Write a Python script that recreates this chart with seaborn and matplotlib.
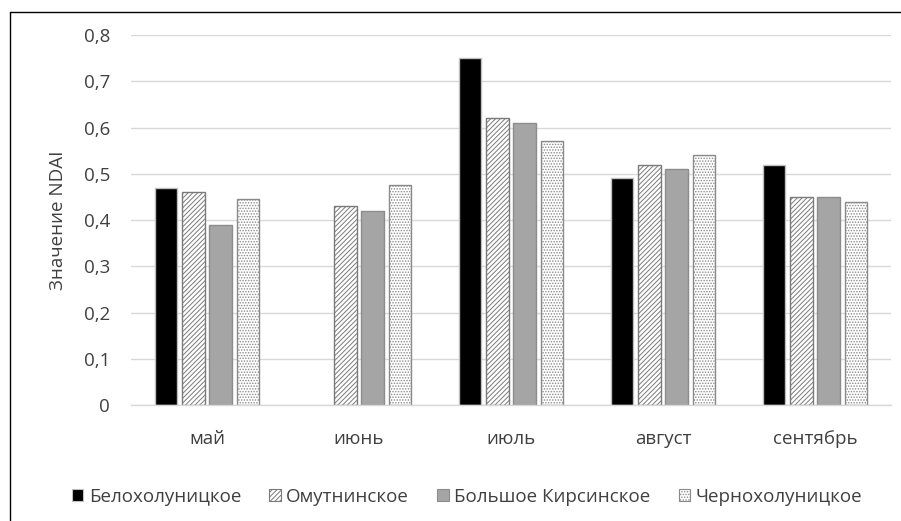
import matplotlib
matplotlib.use("Agg")
import matplotlib.pyplot as plt
from matplotlib.patches import Patch
from matplotlib.lines import Line2D
import seaborn as sns
import numpy as np
import pandas as pd

months = ["май", "июнь", "июль", "август", "сентябрь"]
series = ["Белохолуницкое", "Омутнинское", "Большое Кирсинское", "Чернохолуницкое"]
belo = [0.47, np.nan, 0.75, 0.49, 0.52]
omut = [0.46, 0.43, 0.62, 0.52, 0.45]
kirs = [0.39, 0.42, 0.61, 0.51, 0.45]
cherno = [0.445, 0.475, 0.57, 0.54, 0.44]
yticks = [0, 0.1, 0.2, 0.3, 0.4, 0.5, 0.6, 0.7, 0.8]
ylabels = ["0", "0,1", "0,2", "0,3", "0,4", "0,5", "0,6", "0,7", "0,8"]

rows = []
for s, vals in zip(series, [belo, omut, kirs, cherno]):
    for m, v in zip(months, vals):
        rows.append({"month": m, "series": s, "value": v})
df = pd.DataFrame(rows)

sns.set_theme(style="white")
plt.rcParams["font.family"] = ["Open Sans", "DejaVu Sans"]
plt.rcParams["hatch.linewidth"] = 0.7

FS = 13.5
TXT = "#404040"

fig = plt.figure(figsize=(9.01, 5.21), dpi=100)
ax = fig.add_axes([131 / 901, 1 - 405 / 521, 760 / 901, 370 / 521])

styles = [
    dict(facecolor="black", edgecolor="#bfbfbf", hatch=None),
    dict(facecolor="white", edgecolor="#7a7a7a", hatch="///////"),
    dict(facecolor="#a5a5a5", edgecolor="#8c8c8c", hatch=None),
    dict(facecolor="white", edgecolor="#8a8a8a", hatch="......"),
]

sns.barplot(data=df, x="month", y="value", hue="series", order=months,
            hue_order=series, width=0.72, gap=0.167, ax=ax, legend=False,
            errorbar=None)

for cont, st in zip(ax.containers, styles):
    for p in cont:
        p.set_facecolor(st["facecolor"])
        p.set_edgecolor(st["edgecolor"])
        p.set_linewidth(1.0)
        if st["hatch"]:
            p.set_hatch(st["hatch"])

ax.set_ylim(0, 0.8)
ax.set_xlim(-0.5, 4.5)
ax.set_yticks(yticks)
ax.set_yticklabels(ylabels)
ax.yaxis.grid(True, color="#d9d9d9", linewidth=1)
ax.set_axisbelow(True)
for side in ["top", "right", "left"]:
    ax.spines[side].set_visible(False)
ax.spines["bottom"].set_color("#d9d9d9")
ax.spines["bottom"].set_linewidth(1)
ax.tick_params(axis="both", length=0, labelsize=FS, colors=TXT)
ax.tick_params(axis="x", pad=18)
ax.tick_params(axis="y", pad=15)
ax.set_xlabel("")
ax.set_ylabel("Значение NDAI", fontsize=FS, color=TXT, labelpad=12)

handles = [Patch(facecolor=st["facecolor"], edgecolor=st["edgecolor"],
                 hatch=st["hatch"], linewidth=0.8) for st in styles]
fig.legend(handles, series, loc="center", bbox_to_anchor=(467 / 901, 1 - 497 / 521),
           ncol=4, frameon=False, fontsize=FS, handlelength=0.6, handleheight=0.6,
           handletextpad=0.3, columnspacing=1.5, labelcolor=TXT)

fig.add_artist(Line2D([10 / 901, 10 / 901], [0, 1 - 12 / 521], transform=fig.transFigure,
                      color="black", linewidth=1))
fig.add_artist(Line2D([10 / 901, 1], [1 - 12 / 521, 1 - 12 / 521], transform=fig.transFigure,
                      color="black", linewidth=1))

fig.savefig("out.png", dpi=100)
